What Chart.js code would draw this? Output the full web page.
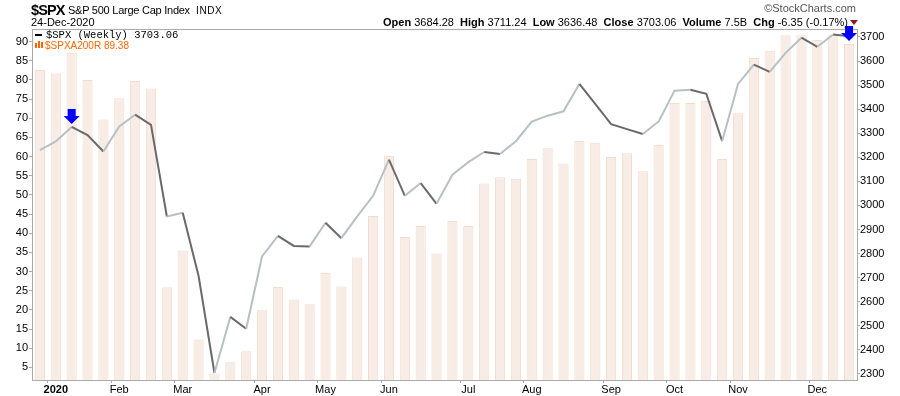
<!DOCTYPE html>
<html>
<head>
<meta charset="utf-8">
<script src="https://cdn.jsdelivr.net/npm/chart.js@4.4.0/dist/chart.umd.min.js"></script>
<style>
  html, body { margin: 0; padding: 0; background: #fff; }
  #wrap { position: relative; width: 900px; height: 396px; font-family: "Liberation Sans", Arial, sans-serif; color: #000; }
  canvas { position: absolute; left: 0; top: 0; }
  .t { position: absolute; white-space: nowrap; line-height: 1; }
  .t b { font-weight: bold; }
</style>
</head>
<body>
<div id="wrap">
  <canvas id="chart" width="900" height="396"></canvas>

  <div class="t" style="left:31px;top:3px;font-size:14.5px;font-weight:bold;letter-spacing:-0.9px">$SPX</div>
  <div class="t" style="left:68px;top:5px;font-size:11px;letter-spacing:-0.25px">S&amp;P 500 Large Cap Index</div>
  <div class="t" style="left:196px;top:6px;font-size:10px;letter-spacing:0.6px">INDX</div>
  <div class="t" style="right:44px;top:3px;font-size:11px;color:#555">&copy;StockCharts.com</div>
  <div class="t" style="left:31px;top:17px;font-size:11px">24-Dec-2020</div>
  <div class="t" style="right:52px;top:17px;font-size:11px"><b>Open</b> 3684.28&nbsp; <b>High</b> 3711.24&nbsp; <b>Low</b> 3636.48&nbsp; <b>Close</b> 3703.06&nbsp; <b>Volume</b> 7.5B&nbsp; <b>Chg</b> -6.35 (-0.17%)</div>
  <div style="position:absolute;left:850px;top:20px;width:0;height:0;border-left:4px solid transparent;border-right:4px solid transparent;border-top:5px solid #8b1a2b"></div>

  <div style="position:absolute;left:35px;top:34px;width:7px;height:2px;background:#000"></div>
  <div class="t" style="left:46px;top:30px;font-size:10.5px;font-family:'Liberation Mono','DejaVu Sans Mono',monospace">$SPX (Weekly) 3703.06</div>
  <div style="position:absolute;left:35px;top:43px;width:2px;height:5px;background:#ff6600"></div>
  <div style="position:absolute;left:38px;top:41px;width:2px;height:7px;background:#ff6600"></div>
  <div style="position:absolute;left:41px;top:42px;width:2px;height:6px;background:#ff6600"></div>
  <div class="t" style="left:45px;top:41px;font-size:10px;color:#ff6600">$SPXA200R 89.38</div>
</div>

<script>
// weekly closes, 2020
const weeks = [
  'Jan 3', 'Jan 10', 'Jan 17', 'Jan 24', 'Jan 31', 'Feb 7', 'Feb 14', 'Feb 21', 'Feb 28',
  'Mar 6', 'Mar 13', 'Mar 20', 'Mar 27', 'Apr 3', 'Apr 9', 'Apr 17', 'Apr 24',
  'May 1', 'May 8', 'May 15', 'May 22', 'May 29', 'Jun 5', 'Jun 12', 'Jun 19', 'Jun 26',
  'Jul 2', 'Jul 10', 'Jul 17', 'Jul 24', 'Jul 31', 'Aug 7', 'Aug 14', 'Aug 21', 'Aug 28',
  'Sep 4', 'Sep 11', 'Sep 18', 'Sep 25', 'Oct 2', 'Oct 9', 'Oct 16', 'Oct 23', 'Oct 30',
  'Nov 6', 'Nov 13', 'Nov 20', 'Nov 27', 'Dec 4', 'Dec 11', 'Dec 18', 'Dec 24'
]

const spxClose = [
  3230, 3266, 3326, 3292, 3224, 3328, 3377, 3335, 2954, 2970,
  2707, 2304, 2537, 2488, 2788, 2874, 2832, 2830, 2928, 2864,
  2955, 3040, 3190, 3040, 3093, 3007, 3128, 3180, 3222, 3214,
  3267, 3348, 3373, 3391, 3505, 3422, 3338, 3317, 3297, 3349,
  3477, 3481, 3464, 3267, 3505, 3585, 3555, 3634, 3697, 3659,
  3710, 3703.06
]

// % of stocks above 200-day MA
const above200 = [
  82.6, 81.7, 87.1, 80.0, 69.7, 75.2, 79.7, 77.8, 25.9, 35.5,
  12.3, 3.4, 6.3, 9.2, 19.9, 26.0, 22.7, 21.5, 29.6, 26.1,
  33.7, 44.5, 60.2, 39.0, 41.9, 34.7, 43.2, 41.9, 53.0, 54.6,
  54.2, 59.4, 62.2, 58.2, 64.1, 63.6, 59.9, 60.9, 56.2, 63.0,
  74.0, 74.0, 74.5, 59.4, 71.3, 85.7, 87.6, 91.7, 91.7, 90.4,
  91.7, 89.38
]

const leftTicks = [5, 10, 15, 20, 25, 30, 35, 40, 45, 50, 55, 60, 65, 70, 75, 80, 85, 90]
const rightTicks = [2300, 2400, 2500, 2600, 2700, 2800, 2900, 3000, 3100, 3200, 3300, 3400, 3500, 3600, 3700]

const monthTickIndex = [1, 5, 9, 14, 18, 22, 27, 31, 36, 40, 44, 49]
const monthTickText = ['2020', 'Feb', 'Mar', 'Apr', 'May', 'Jun', 'Jul', 'Aug', 'Sep', 'Oct', 'Nov', 'Dec']

const arrowIndex = [2, 51]

const axisColor = '#aaaaaa'
const font = { family: "'Liberation Sans', Arial, sans-serif", size: 11 }

// frame on top + the blue signal arrows
const extras = {
  id: 'extras',
  afterDatasetsDraw(chart) {
    const ctx = chart.ctx
    const area = chart.chartArea
    ctx.save()
    ctx.strokeStyle = axisColor
    ctx.lineWidth = 1
    ctx.beginPath()
    ctx.moveTo(area.left, area.top + 0.5)
    ctx.lineTo(area.right, area.top + 0.5)
    ctx.stroke()

    const meta = chart.getDatasetMeta(1)
    ctx.fillStyle = '#0000ff'
    arrowIndex.forEach(i => {
      const pt = meta.data[i]
      const x = pt.x
      const top = Math.max(pt.y - 18, area.top - 3)
      ctx.fillRect(x - 4, top, 8, 8)
      ctx.beginPath()
      ctx.moveTo(x - 8, top + 7)
      ctx.lineTo(x + 8, top + 7)
      ctx.lineTo(x, top + 15)
      ctx.closePath()
      ctx.fill()
    })
    ctx.restore()
  }
}

new Chart(document.getElementById('chart'), {
  data: {
    labels: weeks,
    datasets: [
      {
        type: 'bar',
        label: '$SPXA200R',
        data: above200,
        yAxisID: 'yLeft',
        backgroundColor: '#f8ece6',
        borderColor: '#f4dccd',
        borderWidth: 1,
        barPercentage: 0.64,
        categoryPercentage: 1,
        order: 2
      },
      {
        type: 'line',
        label: '$SPX',
        data: spxClose,
        yAxisID: 'yRight',
        borderWidth: 2,
        pointRadius: 0,
        tension: 0,
        segment: {
          borderColor: ctx => ctx.p1.parsed.y < ctx.p0.parsed.y ? '#6a6a6a' : '#b5c1c5'
        },
        order: 1
      }
    ]
  },
  options: {
    responsive: false,
    animation: false,
    devicePixelRatio: 1,
    layout: { padding: { top: 29, left: 0, right: 0, bottom: 0 } },
    plugins: {
      legend: { display: false },
      tooltip: { enabled: false }
    },
    scales: {
      x: {
        offset: true,
        afterFit: s => { s.height = 16 },
        border: { color: axisColor },
        grid: {
          drawOnChartArea: false,
          tickLength: 3,
          color: ctx => monthTickIndex.includes(ctx.index) ? axisColor : 'transparent'
        },
        ticks: {
          autoSkip: false,
          maxRotation: 0,
          padding: 0,
          color: '#000',
          font: ctx => ctx.index === 1 ? { ...font, weight: 'bold' } : font,
          callback: function(value, index) {
            const k = monthTickIndex.indexOf(index)
            return k >= 0 ? monthTickText[k] : ''
          }
        }
      },
      yLeft: {
        position: 'left',
        min: 1.7,
        max: 93.3,
        afterFit: s => { s.width = 32 },
        afterBuildTicks: s => { s.ticks = leftTicks.map(v => ({ value: v })) },
        border: { color: axisColor },
        grid: { drawOnChartArea: false, tickLength: 3, color: axisColor },
        ticks: { padding: 1, color: '#000', font: font }
      },
      yRight: {
        position: 'right',
        min: 2275,
        max: 3733,
        afterFit: s => { s.width = 43 },
        afterBuildTicks: s => { s.ticks = rightTicks.map(v => ({ value: v })) },
        border: { color: axisColor },
        grid: { drawOnChartArea: false, tickLength: 3, color: axisColor },
        ticks: {
          padding: 0,
          color: '#000',
          font: font,
          callback: function(value) {
            return String(value)
          }
        }
      }
    }
  },
  plugins: [extras]
})
</script>
</body>
</html>
